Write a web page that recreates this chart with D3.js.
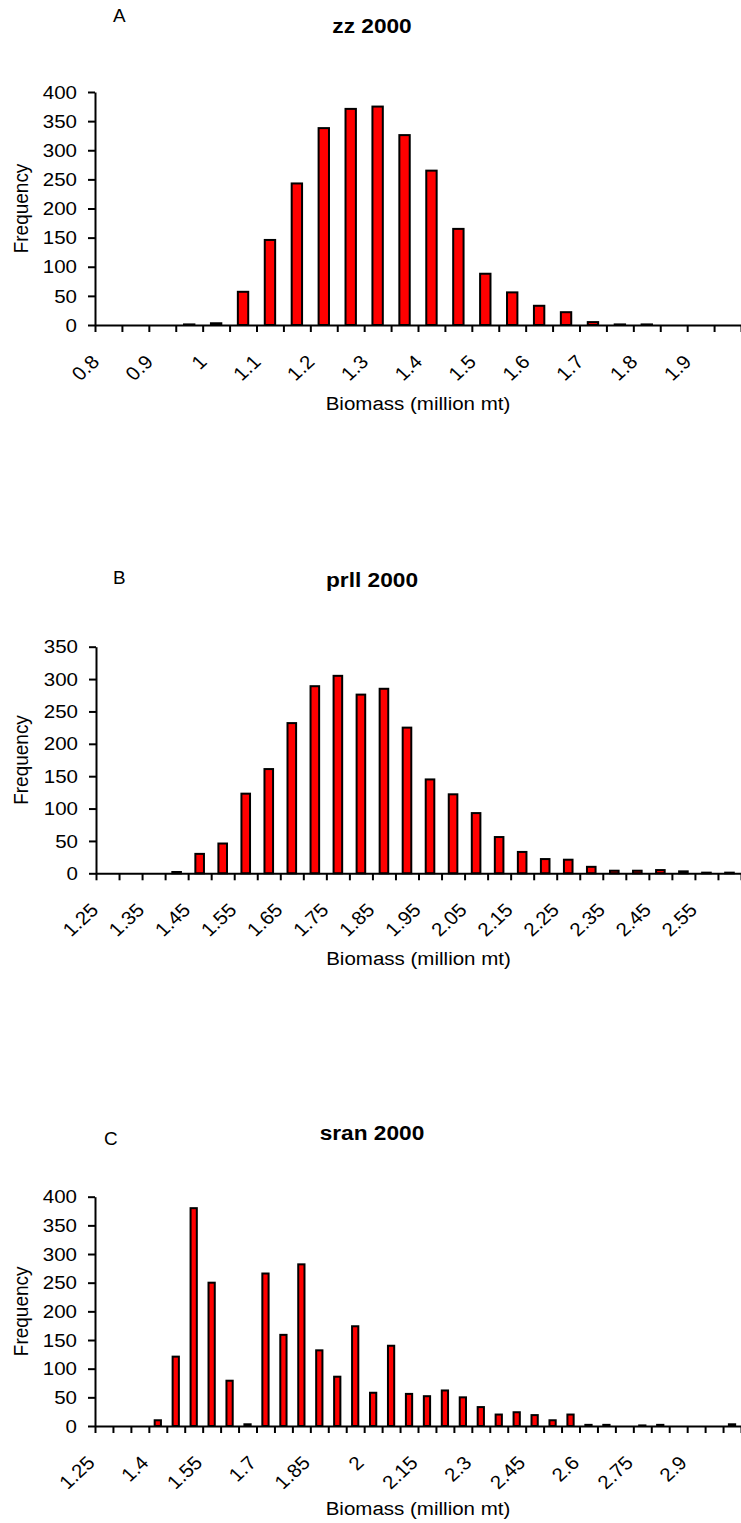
<!DOCTYPE html>
<html>
<head>
<meta charset="utf-8">
<script src="https://cdn.jsdelivr.net/npm/d3@7"></script>
<style>
  body { margin: 0; background: #fff; }
  svg { display: block; }
  text { font-family: Arial, "Liberation Sans", sans-serif; fill: #000; }
</style>
</head>
<body>
<svg id="chart" width="741" height="1523"></svg>
<script>
// A: zz 2000
var zzCats = ["0.8","0.85","0.9","0.95","1","1.05","1.1","1.15","1.2","1.25","1.3","1.35",
              "1.4","1.45","1.5","1.55","1.6","1.65","1.7","1.75","1.8","1.85","1.9","1.95"];
var zzFreq = [0,0,0,1,3,57,146,243,338,371,375,326,265,165,88,56,33,22,5,1,1,0,0,0];
var zzLabels = ["0.8","0.9","1","1.1","1.2","1.3","1.4","1.5","1.6","1.7","1.8","1.9"];
var zzTicks = [0,50,100,150,200,250,300,350,400];

// B: prll 2000
var prllCats = ["1.25","1.3","1.35","1.4","1.45","1.5","1.55","1.6","1.65","1.7","1.75","1.8","1.85","1.9",
                "1.95","2","2.05","2.1","2.15","2.2","2.25","2.3","2.35","2.4","2.45","2.5","2.55","2.6"];
var prllFreq = [0,0,0,2,30,46,123,161,232,289,305,276,285,225,145,122,93,56,33,22,21,10,4,4,5,3,1,1];
var prllLabels = ["1.25","1.35","1.45","1.55","1.65","1.75","1.85","1.95","2.05","2.15","2.25","2.35","2.45","2.55"];
var prllTicks = [0,50,100,150,200,250,300,350];

// C: sran 2000
var sranCats = ["1.25","1.3","1.35","1.4","1.45","1.5","1.55","1.6","1.65","1.7","1.75","1.8",
                "1.85","1.9","1.95","2","2.05","2.1","2.15","2.2","2.25","2.3","2.35","2.4",
                "2.45","2.5","2.55","2.6","2.65","2.7","2.75","2.8","2.85","2.9","2.95","3"];
var sranFreq = [0,0,0,10,121,380,250,79,3,266,159,282,132,86,174,58,140,56,52,62,50,33,20,24,19,10,20,2,2,0,1,2,0,0,0,3];
var sranLabels = ["1.25","1.4","1.55","1.7","1.85","2","2.15","2.3","2.45","2.6","2.75","2.9"];
var sranTicks = [0,50,100,150,200,250,300,350,400];

var svg = d3.select("#chart");
var K = 1.08;   // the source picture is a little stretched sideways, so is the text

function label(g, x, y, s, o) {
  o = o || {};
  var t = g.append("text")
    .attr("transform", "translate(" + x + "," + y + ") scale(" + K + ",1)" + (o.rot ? " rotate(" + o.rot + ")" : ""))
    .attr("text-anchor", o.anchor || "start")
    .style("font-size", (o.size || 19) + "px")
    .text(s);
  if (o.bold) t.style("font-weight", "bold");
  if (o.dy) t.attr("dy", o.dy);
  return t;
}

function drawPanel(p) {
  var g = svg.append("g");
  var x = d3.scaleBand().domain(p.cats).range([p.left, p.right]);
  var xi = d3.scaleLinear().domain([0, p.cats.length]).range([p.left, p.right]);
  var y = d3.scaleLinear().domain([0, p.ymax]).range([p.bottom, p.top]);
  var step = x.step(), bw = step * 0.46;

  g.selectAll("rect.bar")
    .data(p.freq)
    .enter().append("rect")
    .attr("class", "bar")
    .attr("x", function(d, i) { return x(p.cats[i]) + (step - bw) / 2 + 1; })
    .attr("y", function(d) { return y(d); })
    .attr("width", bw - 2)
    .attr("height", function(d) { return y(0) - y(d); })
    .attr("fill", "#ff0000")
    .attr("stroke", "#000")
    .attr("stroke-width", 2);

  g.append("g")
   .attr("transform", "translate(" + p.left + ",0)")
   .call(d3.axisLeft(y).tickValues(p.yticks).tickSize(7).tickSizeOuter(0).tickFormat(""));

  g.append("g")
   .attr("transform", "translate(0," + p.bottom + ")")
   .call(d3.axisBottom(xi).tickValues(d3.range(p.cats.length + 1)).tickSize(7).tickSizeOuter(0).tickFormat(""));

  g.selectAll(".domain, .tick line").attr("stroke", "#000").attr("stroke-width", 2);

  p.yticks.forEach(function(v) {
    label(g, p.left - 18, y(v), v, {anchor: "end", dy: "0.35em"});
  });

  // rotated category labels
  p.cats.forEach(function(c) {
    if (p.labels.indexOf(c) < 0) return;
    label(g, x(c) + step / 2 - 8, p.bottom + 38, c, {anchor: "end", rot: -45});
  });

  label(g, p.letterX, p.letterY, p.letter, {size: 17.5});
  label(g, 372, p.titleY, p.title, {anchor: "middle", bold: true, size: 21});
  label(g, 28, (p.top + p.bottom) / 2, "Frequency", {anchor: "middle", rot: -90});
  label(g, (p.left + p.right) / 2, p.xtitleY, "Biomass (million mt)", {anchor: "middle"});
}

drawPanel({cats: zzCats, freq: zzFreq, labels: zzLabels, yticks: zzTicks, ymax: 400,
           left: 95, right: 741, top: 92, bottom: 325,
           letter: "A", letterX: 113, letterY: 22, title: "zz 2000", titleY: 33, xtitleY: 410});

drawPanel({cats: prllCats, freq: prllFreq, labels: prllLabels, yticks: prllTicks, ymax: 350,
           left: 96, right: 741, top: 646.7, bottom: 873.3,
           letter: "B", letterX: 113, letterY: 584, title: "prll 2000", titleY: 587, xtitleY: 965});

drawPanel({cats: sranCats, freq: sranFreq, labels: sranLabels, yticks: sranTicks, ymax: 400,
           left: 95, right: 741, top: 1196.7, bottom: 1426,
           letter: "C", letterX: 104, letterY: 1145, title: "sran 2000", titleY: 1140, xtitleY: 1515});
</script>
</body>
</html>
